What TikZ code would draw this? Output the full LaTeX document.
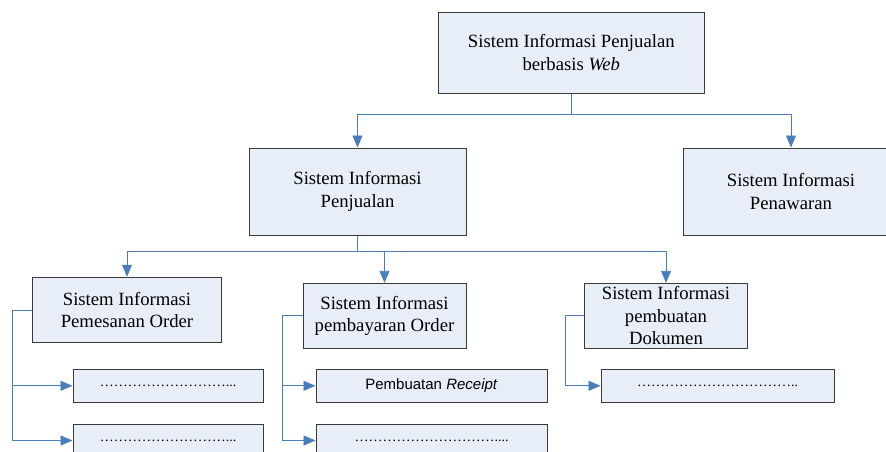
\documentclass[tikz,border=0pt]{standalone}
\usepackage{fontspec}
\setmainfont{Liberation Serif}
\setsansfont{Liberation Sans}
\usetikzlibrary{arrows.meta}
\definecolor{boxfill}{HTML}{E8EEF7}
\definecolor{linkblue}{HTML}{4A7EBB}
\definecolor{boxline}{HTML}{3A3A3A}

\begin{document}
\begin{tikzpicture}[x=1pt,y=-1pt]
\tikzstyle{every node}+=[inner sep=0pt]
\tikzstyle{kotak}=[draw=boxline, fill=boxfill, line width=1pt, align=center, font=\fontsize{18.7}{22.5}\selectfont]
\tikzstyle{subkotak}=[kotak, minimum height=33pt, font=\fontsize{14}{16}\selectfont]
\tikzstyle{garis}=[draw=linkblue, line width=0.9pt]
\tikzstyle{panah}=[garis, -{Triangle[length=12pt,width=10pt]}]
\useasboundingbox (0,0) rectangle (886,451);
\clip (0,0) rectangle (886,451);
\node [kotak, minimum width=266pt, minimum height=81pt] (siweb) at (571.3,52.8) {Sistem Informasi Penjualan\\berbasis \textit{Web}};
\node [kotak, minimum width=217pt, minimum height=87pt] (sip) at (357.5,191.5) {Sistem Informasi\\Penjualan};
\node [kotak, minimum width=216pt, minimum height=87pt] (spw) at (791,191.5) {Sistem Informasi\\Penawaran};
\node [kotak, minimum width=189pt, minimum height=65.5pt] (spo) at (127,310) {Sistem Informasi\\Pemesanan Order};
\node [kotak, minimum width=163pt, minimum height=65pt] (sbo) at (384.5,315.8) {Sistem Informasi\\pembayaran Order};
\node [kotak, minimum width=163pt, minimum height=65pt] (sdk) at (666,315.8) {Sistem Informasi\\pembuatan\\Dokumen};
\node [subkotak, minimum width=190pt] (d11) at (168,385.8) {………………………...};
\node [subkotak, minimum width=190pt] (d12) at (168,440.5) {………………………...};
\node [subkotak, minimum width=231pt, font=\sffamily\fontsize{15}{18}\selectfont] (d21) at (431.5,385.8) {Pembuatan \textit{Receipt}};
\node [subkotak, minimum width=231pt] (d22) at (431.5,440.5) {…………………………....};
\node [subkotak, minimum width=233pt] (d31) at (717.5,385.8) {……………………………..};
\coordinate (j1) at (571.3,114);
\coordinate (j2) at (357.5,251);
\draw [garis] (siweb.south) -- (j1);
\draw [panah] (j1) -| (sip.north);
\draw [panah] (j1) -| (spw.north);
\draw [garis] (sip.south) -- (j2);
\draw [panah] (j2) -| (spo.north);
\draw [panah] (j2) -| (sbo.north);
\draw [panah] (j2) -| (sdk.north);
\draw [panah] (spo.west) -- ++(-20,0) |- (d11.west);
\draw [panah] (spo.west) -- ++(-20,0) |- (d12.west);
\draw [panah] (sbo.west) -- ++(-20,0) |- (d21.west);
\draw [panah] (sbo.west) -- ++(-20,0) |- (d22.west);
\draw [panah] (sdk.west) -- ++(-19,0) |- (d31.west);
\end{tikzpicture}
\end{document}
